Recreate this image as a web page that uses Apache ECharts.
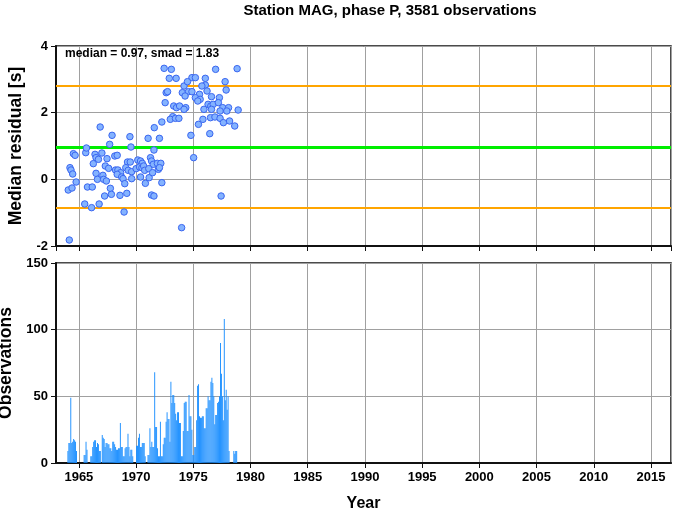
<!DOCTYPE html>
<html>
<head>
<meta charset="utf-8">
<script src="https://cdn.jsdelivr.net/npm/echarts@6/dist/echarts.min.js"></script>
<style>html,body{margin:0;padding:0;background:#fff}#c{width:677px;height:511px}</style>
</head>
<body>
<div id="c"></div>
<script>
// ---- data ----
const titleText = 'Station MAG, phase P, 3581 observations';
const medianValue = 0.97;
const smadValue = 1.83;

const scatterYears = [
1972.45,1973.08,1976.95,1978.83,1972.90,1973.50,1974.88,1975.18,1976.05,1977.78,
1974.19,1974.49,1976.05,1975.75,1972.63,1972.75,1974.04,1974.58,1974.88,1975.54,
1976.20,1977.87,1972.54,1974.28,1975.18,1975.60,1975.39,1976.59,1977.28,1973.29,
1973.53,1973.80,1974.34,1974.19,1976.29,1976.53,1976.74,1977.19,1977.57,1978.08,
1975.93,1976.59,1977.34,1977.93,1978.92,1973.20,1972.99,1973.44,1973.74,1975.84,
1976.50,1976.89,1977.34,1977.63,1978.17,1978.62,1975.45,1976.44,1972.25,1971.59,
1974.79,1971.05,1972.04,1971.56,1969.55,1967.69,1967.90,1969.46,1975.03,1966.86,
1965.60,1965.66,1964.52,1964.67,1966.41,1967.01,1966.26,1966.50,1966.71,1967.46,
1968.14,1968.35,1969.25,1969.49,1970.15,1970.39,1970.54,1971.26,1971.35,1971.50,
1971.86,1972.16,1964.22,1964.31,1964.46,1967.31,1967.60,1968.20,1968.41,1968.65,
1969.10,1969.31,1969.61,1970.00,1970.30,1970.51,1970.66,1970.75,1971.11,1971.95,
1972.04,1966.50,1966.62,1967.10,1967.16,1967.40,1968.35,1968.74,1968.86,1969.01,
1969.61,1970.39,1970.81,1971.14,1971.44,1972.25,1964.76,1964.07,1964.40,1965.75,
1966.17,1967.75,1967.84,1967.25,1968.59,1969.19,1971.35,1971.56,1977.43,1965.51,
1966.77,1966.11,1968.95,1973.98,1964.16
];
const scatterResiduals = [
3.33,3.30,3.30,3.32,3.03,3.03,3.05,3.05,3.03,2.93,
2.80,2.93,2.83,2.80,2.60,2.63,2.60,2.63,2.63,2.55,
2.65,2.68,2.30,2.50,2.45,2.40,2.35,2.48,2.45,2.20,
2.15,2.20,2.15,2.10,2.25,2.20,2.25,2.30,2.15,2.15,
2.10,2.10,2.05,2.05,2.08,1.88,1.80,1.83,1.83,1.80,
1.85,1.87,1.83,1.70,1.75,1.60,1.65,1.37,1.72,1.55,
1.32,1.23,1.23,0.88,0.97,1.05,1.32,1.28,0.65,1.57,
0.80,0.94,0.77,0.72,0.75,0.79,0.47,0.65,0.60,0.62,
0.70,0.72,0.52,0.52,0.58,0.55,0.48,0.65,0.55,0.45,
0.48,0.48,0.35,0.28,0.16,0.40,0.33,0.28,0.28,0.20,
0.35,0.27,0.23,0.32,0.37,0.35,0.40,0.27,0.32,0.30,
0.35,0.18,0.00,0.12,0.00,-0.05,0.15,0.07,0.02,-0.13,
0.02,0.07,-0.12,0.05,0.20,-0.10,-0.08,-0.32,-0.26,-0.23,
-0.23,-0.27,-0.45,-0.50,-0.48,-0.42,-0.47,-0.50,-0.50,-0.74,
-0.74,-0.85,-0.98,-1.45,-1.82
];

// monthly observation counts starting January 1964
const obsStartYear = 1964;
const obsBinYears = 1 / 12;
const obsCounts = [
9,15,15,49,15,16,18,17,16,9,
0,0,0,0,0,0,0,6,6,16,
10,0,0,0,5,5,12,16,17,17,
12,15,14,9,9,0,21,19,18,12,
15,15,14,14,11,11,9,16,16,14,
12,10,10,11,11,30,12,12,5,5,
11,12,12,22,12,5,10,10,5,0,
0,0,13,13,19,22,12,12,15,15,
15,5,0,0,6,6,26,12,16,12,
12,68,27,27,11,5,5,31,5,5,
14,19,19,31,38,33,33,16,61,45,
51,51,45,37,32,38,38,30,30,5,
5,24,45,46,46,24,24,51,35,35,
25,6,6,12,12,32,58,59,35,34,
34,35,35,26,26,41,41,50,47,47,
61,64,60,50,29,36,36,45,46,50,
90,67,50,32,108,47,55,40,50,9,
0,0,0,0,9,7,9,9,0,0
];

const xMin = 1963, xMax = 2016.75;
const resTicks = [-2, 4, 2];   // min, max, interval
const obsTicks = [0, 150, 50];

// ---- build ----
const scatterData = scatterYears.map((y, i) => [y, scatterResiduals[i]]);
const barData = obsCounts.map((c, i) => [obsStartYear + i * obsBinYears, obsStartYear + (i + 1) * obsBinYears, c]);

const FONT = '"Liberation Sans", Arial, Helvetica, sans-serif';
const gridL = 56, gridW = 615;

function xAxisCfg(gridIndex, showLabels) {
  return {
    type: 'value', gridIndex, min: xMin, max: xMax, splitNumber: 11,
    axisLine: { show: true, onZero: false, lineStyle: { color: '#111', width: 2 } },
    axisTick: { show: true, length: 5, lineStyle: { color: '#111', width: 1 } },
    axisLabel: { show: showLabels, showMinLabel: false, showMaxLabel: false, margin: 8,
      formatter: v => String(Math.round(v)),
      color: '#000', fontFamily: FONT, fontWeight: 'bold', fontSize: 13 },
    splitLine: { show: true, lineStyle: { color: '#a0a0a0', width: 1 } },
    name: showLabels ? 'Year' : '', nameLocation: 'middle', nameGap: 33,
    nameTextStyle: { color: '#000', fontFamily: FONT, fontWeight: 'bold', fontSize: 16 }
  };
}
function yAxisCfg(gridIndex, t, name, gap) {
  return {
    type: 'value', gridIndex, min: t[0], max: t[1], interval: t[2],
    axisLine: { show: true, onZero: false, lineStyle: { color: '#111', width: 2 } },
    axisTick: { show: true, length: 5, lineStyle: { color: '#111', width: 1 } },
    axisLabel: { margin: 8, color: '#000', fontFamily: FONT, fontWeight: 'bold', fontSize: 13 },
    splitLine: { show: true, lineStyle: { color: '#a0a0a0', width: 1 } },
    name, nameLocation: 'middle', nameGap: gap, nameRotate: 90,
    nameTextStyle: { color: '#000', fontFamily: FONT, fontWeight: 'bold', fontSize: 17.5 }
  };
}

const gridCommon = { show: true, borderColor: '#111', borderWidth: 1.5, backgroundColor: 'transparent',
  containLabel: false, outerBoundsMode: 'none' };

const chart = echarts.init(document.getElementById('c'), null, { renderer: 'canvas' });
chart.setOption({
  animation: false,
  backgroundColor: '#fff',
  grid: [
    Object.assign({ left: gridL, top: 46, width: gridW, height: 200 }, gridCommon),
    Object.assign({ left: gridL, top: 263, width: gridW, height: 200 }, gridCommon)
  ],
  xAxis: [xAxisCfg(0, false), xAxisCfg(1, true)],
  yAxis: [yAxisCfg(0, resTicks, 'Median residual [s]', 27), yAxisCfg(1, obsTicks, 'Observations', 37)],
  graphic: [
    { type: 'text', x: 390, y: 11, style: { text: titleText, textAlign: 'center', textVerticalAlign: 'middle',
      font: 'bold 15px ' + FONT, fill: '#000' } },
    { type: 'text', x: 65, y: 54, z: 100, style: { text: 'median = ' + medianValue.toFixed(2) + ', smad = ' + smadValue.toFixed(2),
      textAlign: 'left', textVerticalAlign: 'middle', font: 'bold 12px ' + FONT, fill: '#000' } }
  ],
  series: [
    {
      type: 'scatter', xAxisIndex: 0, yAxisIndex: 0, data: [], z: 1,
      markLine: {
        silent: true, symbol: 'none', label: { show: false },
        data: [
          { yAxis: medianValue + smadValue, lineStyle: { color: '#ffa500', width: 2, type: 'solid' } },
          { yAxis: medianValue - smadValue, lineStyle: { color: '#ffa500', width: 2, type: 'solid' } },
          { yAxis: medianValue, lineStyle: { color: '#00ee00', width: 3, type: 'solid' } }
        ]
      }
    },
    {
      type: 'scatter', xAxisIndex: 0, yAxisIndex: 0, data: scatterData, z: 5,
      symbol: 'circle', symbolSize: 6.5,
      itemStyle: { color: '#84b3ff', borderColor: '#3a66f0', borderWidth: 1, opacity: 1 }
    },
    {
      type: 'custom', xAxisIndex: 1, yAxisIndex: 1, data: barData, z: 3,
      encode: { x: [0, 1], y: 2 },
      renderItem: function (params, api) {
        const p0 = api.coord([api.value(0), api.value(2)]);
        const p1 = api.coord([api.value(1), 0]);
        return { type: 'rect', shape: { x: p0[0], y: p0[1], width: p1[0] - p0[0], height: p1[1] - p0[1] },
          style: { fill: '#1e90ff' } };
      }
    }
  ]
});
</script>
</body>
</html>
